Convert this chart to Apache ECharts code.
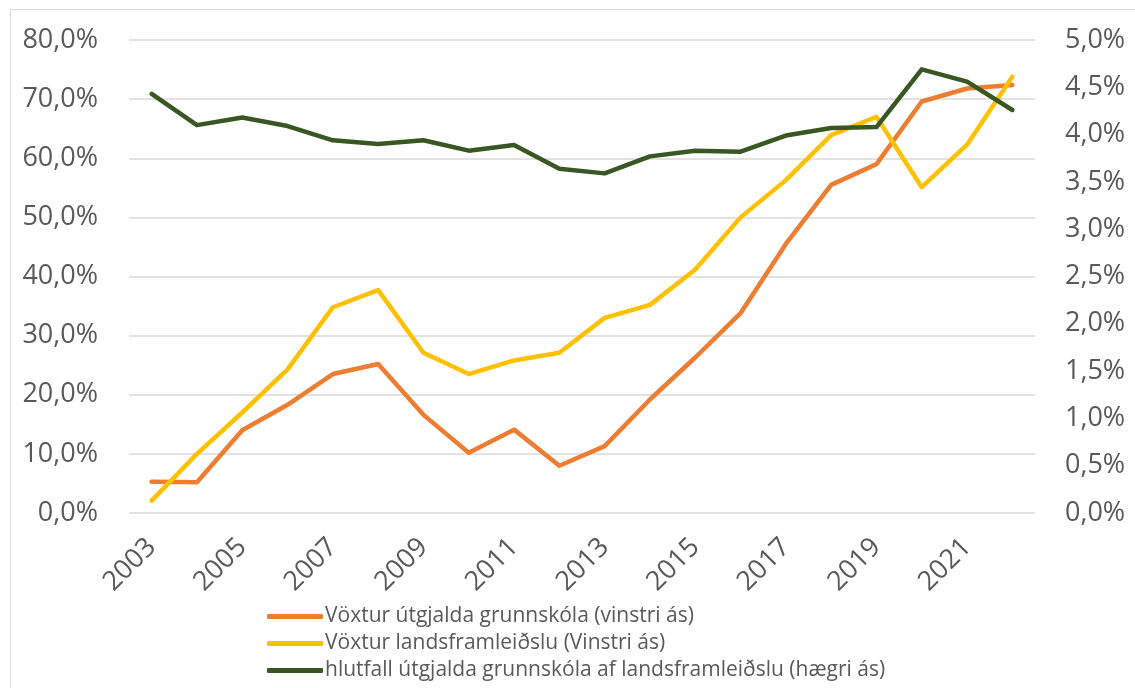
<!DOCTYPE html>
<html>
<head>
<meta charset="utf-8">
<script src="https://cdn.jsdelivr.net/npm/echarts@6/dist/echarts.min.js"></script>
<style>
  html, body { margin: 0; padding: 0; background: #fff; overflow: hidden; }
  #frame { position: absolute; left: 10px; top: 9px; width: 1300px; height: 900px; border: 1.5px solid #d9d9d9; box-sizing: border-box; }
  #chart { position: absolute; left: 0; top: 0; width: 1135px; height: 688px; }
</style>
</head>
<body>
<div id="frame"></div>
<div id="chart"></div>
<script>
const years = ['2003', '2004', '2005', '2006', '2007', '2008', '2009', '2010', '2011', '2012',
  '2013', '2014', '2015', '2016', '2017', '2018', '2019', '2020', '2021', '2022'];

// vinstri ás, %
const spendingGrowth = [5.3, 5.2, 14.0, 18.3, 23.5, 25.2, 16.6, 10.2, 14.1, 8.0,
  11.3, 19.2, 26.3, 33.8, 45.5, 55.5, 59.0, 69.6, 71.8, 72.4];
const gdpGrowth = [2.1, 10.0, 17.0, 24.3, 34.8, 37.7, 27.1, 23.5, 25.8, 27.1,
  33.0, 35.2, 41.2, 50.0, 56.3, 63.9, 67.0, 55.1, 62.3, 73.8];
// hægri ás, %
const spendingShare = [4.43, 4.10, 4.18, 4.09, 3.94, 3.90, 3.94, 3.83, 3.89, 3.64,
  3.59, 3.77, 3.83, 3.82, 3.99, 4.07, 4.08, 4.69, 4.56, 4.26];

const seriesNames = [
  'Vöxtur útgjalda grunnskóla (vinstri ás)',
  'Vöxtur landsframleiðslu (Vinstri ás)',
  'hlutfall útgjalda grunnskóla af landsframleiðslu (hægri ás)',
];

const textColor = '#595959';
const gridColor = '#d9d9d9';
const font = '"Open Sans", sans-serif';

const pct = (v) => v.toFixed(1).replace('.', ',') + '%';

const lineSeries = (name, data, color, yAxisIndex) => ({
  name,
  type: 'line',
  data,
  yAxisIndex,
  symbol: 'none',
  smooth: false,
  lineStyle: { color, width: 4.5, cap: 'round', join: 'round' },
  itemStyle: { color },
});

const chart = echarts.init(document.getElementById('chart'), null, { renderer: 'canvas' });

chart.setOption({
  animation: false,
  grid: { left: 129, right: 100, top: 40, bottom: 175, outerBoundsMode: 'none' },
  legend: {
    orient: 'vertical',
    left: 262,
    top: 601,
    icon: 'roundRect',
    itemWidth: 56,
    itemHeight: 5,
    itemGap: 6,
    textStyle: { color: textColor, fontFamily: font, fontSize: 21, padding: [0, 0, 0, -3] },
    data: seriesNames,
  },
  xAxis: {
    type: 'category',
    data: years,
    boundaryGap: true,
    axisLine: { show: false },
    axisTick: { show: false },
    axisLabel: {
      interval: 1,
      rotate: 45,
      margin: 30,
      color: textColor,
      fontFamily: font,
      fontSize: 27,
    },
  },
  yAxis: [
    {
      type: 'value',
      min: 0,
      max: 80,
      interval: 10,
      axisLine: { show: false },
      axisTick: { show: false },
      splitLine: { lineStyle: { color: gridColor, width: 1.5 } },
      axisLabel: { margin: 31, color: textColor, fontFamily: font, fontSize: 27, formatter: pct },
    },
    {
      type: 'value',
      min: 0,
      max: 5,
      interval: 0.5,
      axisLine: { show: false },
      axisTick: { show: false },
      splitLine: { show: false },
      axisLabel: { margin: 30, color: textColor, fontFamily: font, fontSize: 27, formatter: pct },
    },
  ],
  series: [
    lineSeries(seriesNames[0], spendingGrowth, '#ed7d31', 0),
    lineSeries(seriesNames[1], gdpGrowth, '#ffc000', 0),
    lineSeries(seriesNames[2], spendingShare, '#385723', 1),
  ],
});
</script>
</body>
</html>
